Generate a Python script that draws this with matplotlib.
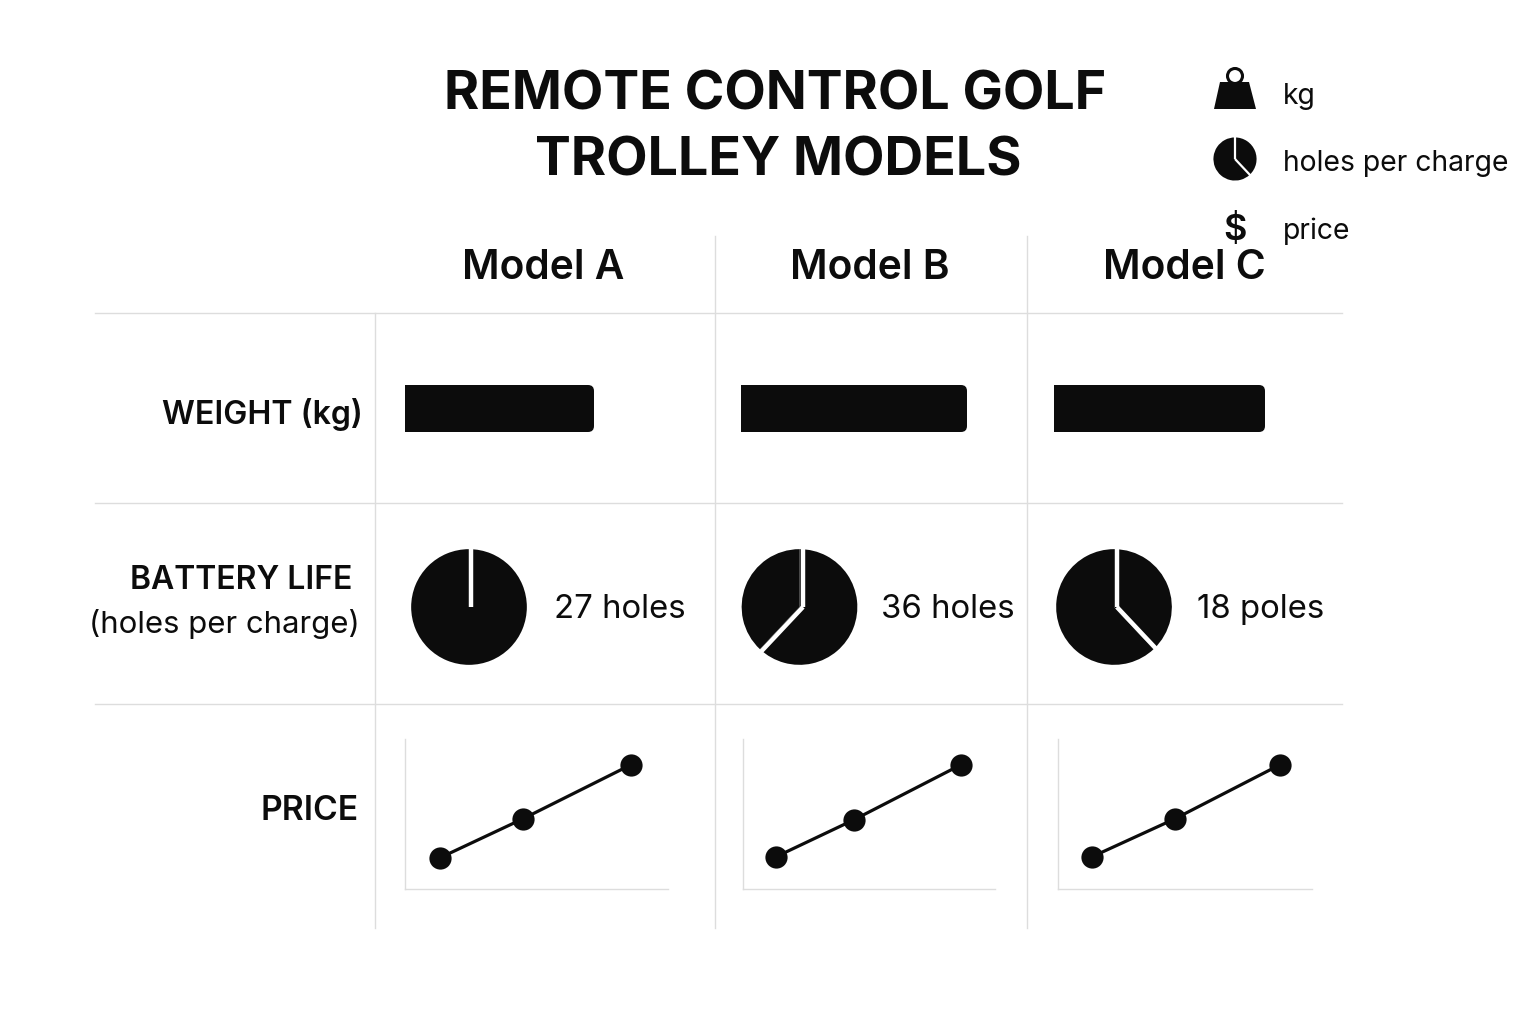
import numpy as np
import matplotlib
matplotlib.use('Agg')
import matplotlib.pyplot as plt
from matplotlib.patches import FancyBboxPatch, Polygon, Circle

plt.rcParams['font.family'] = ['Inter', 'DejaVu Sans']

W, H = 1536, 1024
BLACK = '#0c0c0c'
GRID = '#dddddd'

models = ['Model A', 'Model B', 'Model C']
row_labels = ['WEIGHT (kg)', 'BATTERY LIFE', '(holes per charge)', 'PRICE']

# bar lengths (no scale is given, so these are relative)
weights = [18.9, 22.6, 21.1]

# pie shares, clockwise from the top
battery_a = [100]
battery_b = [62, 38]
battery_c = [38, 62]
battery_labels = ['27 holes', '36 holes', '18 poles']

# price lines, no scale on the axes either
price_x_a = [35, 118, 226]
price_y_a = [31, 70, 124]
price_x_b = [33, 111, 218]
price_y_b = [32, 69, 124]
price_x_c = [34, 117, 222]
price_y_c = [32, 70, 124]

legend_labels = ['kg', 'holes per charge', 'price']

fig = plt.figure(figsize=(W / 100, H / 100), dpi=100)

# overlay in pixel coordinates for text, rules and legend icons
bg = fig.add_axes([0, 0, 1, 1])
bg.set_xlim(0, W)
bg.set_ylim(H, 0)
bg.axis('off')


def px_axes(left, top, width, height):
    ax = fig.add_axes([left / W, 1 - (top + height) / H, width / W, height / H])
    ax.patch.set_alpha(0)
    return ax


def draw_pie(ax, values, hub_x=0.0, lw=3):
    ax.pie(values, startangle=90, counterclock=False, colors=[BLACK], radius=1, center=(0, 0))
    ax.set_xlim(-1.02, 1.02)
    ax.set_ylim(-1.02, 1.02)
    # white spokes between the slices
    bounds = np.concatenate([[0], np.cumsum(values)[:-1]]) / np.sum(values)
    for b in bounds:
        ang = 2 * np.pi * b
        ax.plot([hub_x, hub_x + 1.1 * np.sin(ang)], [0, 1.1 * np.cos(ang)],
                color='white', lw=lw, solid_capstyle='butt')


# rules
for y in [312.5, 502.5, 703.5]:
    bg.plot([94.5, 1341.5], [y, y], color=GRID, lw=1)
bg.plot([374.5, 374.5], [313, 928], color=GRID, lw=1)
for x in [714.5, 1026.5]:
    bg.plot([x, x], [236, 928], color=GRID, lw=1)

# title
bg.text(775, 109, 'REMOTE CONTROL GOLF', ha='center', va='baseline', fontsize=38.7, fontweight='bold', color=BLACK)
bg.text(778, 175, 'TROLLEY MODELS', ha='center', va='baseline', fontsize=38.7, fontweight='bold', color=BLACK)

# column heads
for x, m in zip([543, 870, 1184], models):
    bg.text(x, 279, m, ha='center', va='baseline', fontsize=29.3, fontweight='semibold', color=BLACK)

# row heads
bg.text(363, 424, row_labels[0], ha='right', va='baseline', fontsize=23.2, fontweight='semibold', color=BLACK)
bg.text(352, 589, row_labels[1], ha='right', va='baseline', fontsize=23, fontweight='semibold', color=BLACK)
bg.text(360, 633, row_labels[2], ha='right', va='baseline', fontsize=22.4, color=BLACK)
bg.text(358.5, 820, row_labels[3], ha='right', va='baseline', fontsize=24.2, fontweight='semibold', color=BLACK)

# weight bars, 10 px per unit so the corner rounding stays circular
for left, w in zip([405, 741, 1054], weights):
    ax = px_axes(left, 385, 262, 47)
    ax.set_xlim(0, 26.2)
    ax.set_ylim(0, 4.7)
    ax.axis('off')
    ax.barh(2.35, w * 0.5, height=4.7, color=BLACK)
    ax.add_patch(FancyBboxPatch((0, 0), w, 4.7, boxstyle='round,pad=0,rounding_size=0.6',
                                fc=BLACK, ec='none'))

# battery pies
pies = [battery_a, battery_b, battery_c]
for (cx, hub, vals, lab, tx) in zip([469, 799.5, 1114], [0.03, 0.06, 0.05], pies, battery_labels, [554, 881, 1197]):
    ax = px_axes(cx - 59, 607 - 59, 118, 118)
    draw_pie(ax, vals, hub_x=hub, lw=3.2)
    bg.text(tx, 618, lab, ha='left', va='baseline', fontsize=23.7, color=BLACK)

# price lines
prices = [(price_x_a, price_y_a), (price_x_b, price_y_b), (price_x_c, price_y_c)]
for left, width, (xs, ys) in zip([404.5, 742.5, 1057.5], [263, 252, 254], prices):
    ax = px_axes(left, 739, width, 150)
    ax.set_xlim(0, width)
    ax.set_ylim(0, 150)
    ax.plot(xs, ys, color=BLACK, lw=2.3, marker='o', ms=16, mec='none', clip_on=False)
    ax.set_xticks([])
    ax.set_yticks([])
    ax.spines['top'].set_visible(False)
    ax.spines['right'].set_visible(False)
    ax.spines['left'].set_color(GRID)
    ax.spines['bottom'].set_color(GRID)
    ax.spines['left'].set_linewidth(1)
    ax.spines['bottom'].set_linewidth(1)

# legend icons
bg.add_patch(Polygon([[1220, 82], [1249, 82], [1256, 109], [1214, 109]], closed=True, fc=BLACK, ec='none'))
bg.add_patch(Circle((1235, 76), 7.5, fc='none', ec=BLACK, lw=2.2))
icon = px_axes(1235 - 22, 159 - 22, 44, 44)
draw_pie(icon, battery_c, hub_x=0.0, lw=1.6)
bg.text(1235, 240, '$', ha='center', va='baseline', fontsize=26, fontweight='semibold', color=BLACK)

# legend text
for y, lab in zip([104, 171, 239], legend_labels):
    bg.text(1283, y, lab, ha='left', va='baseline', fontsize=20.4, color=BLACK)

fig.savefig('out.png', dpi=100)
